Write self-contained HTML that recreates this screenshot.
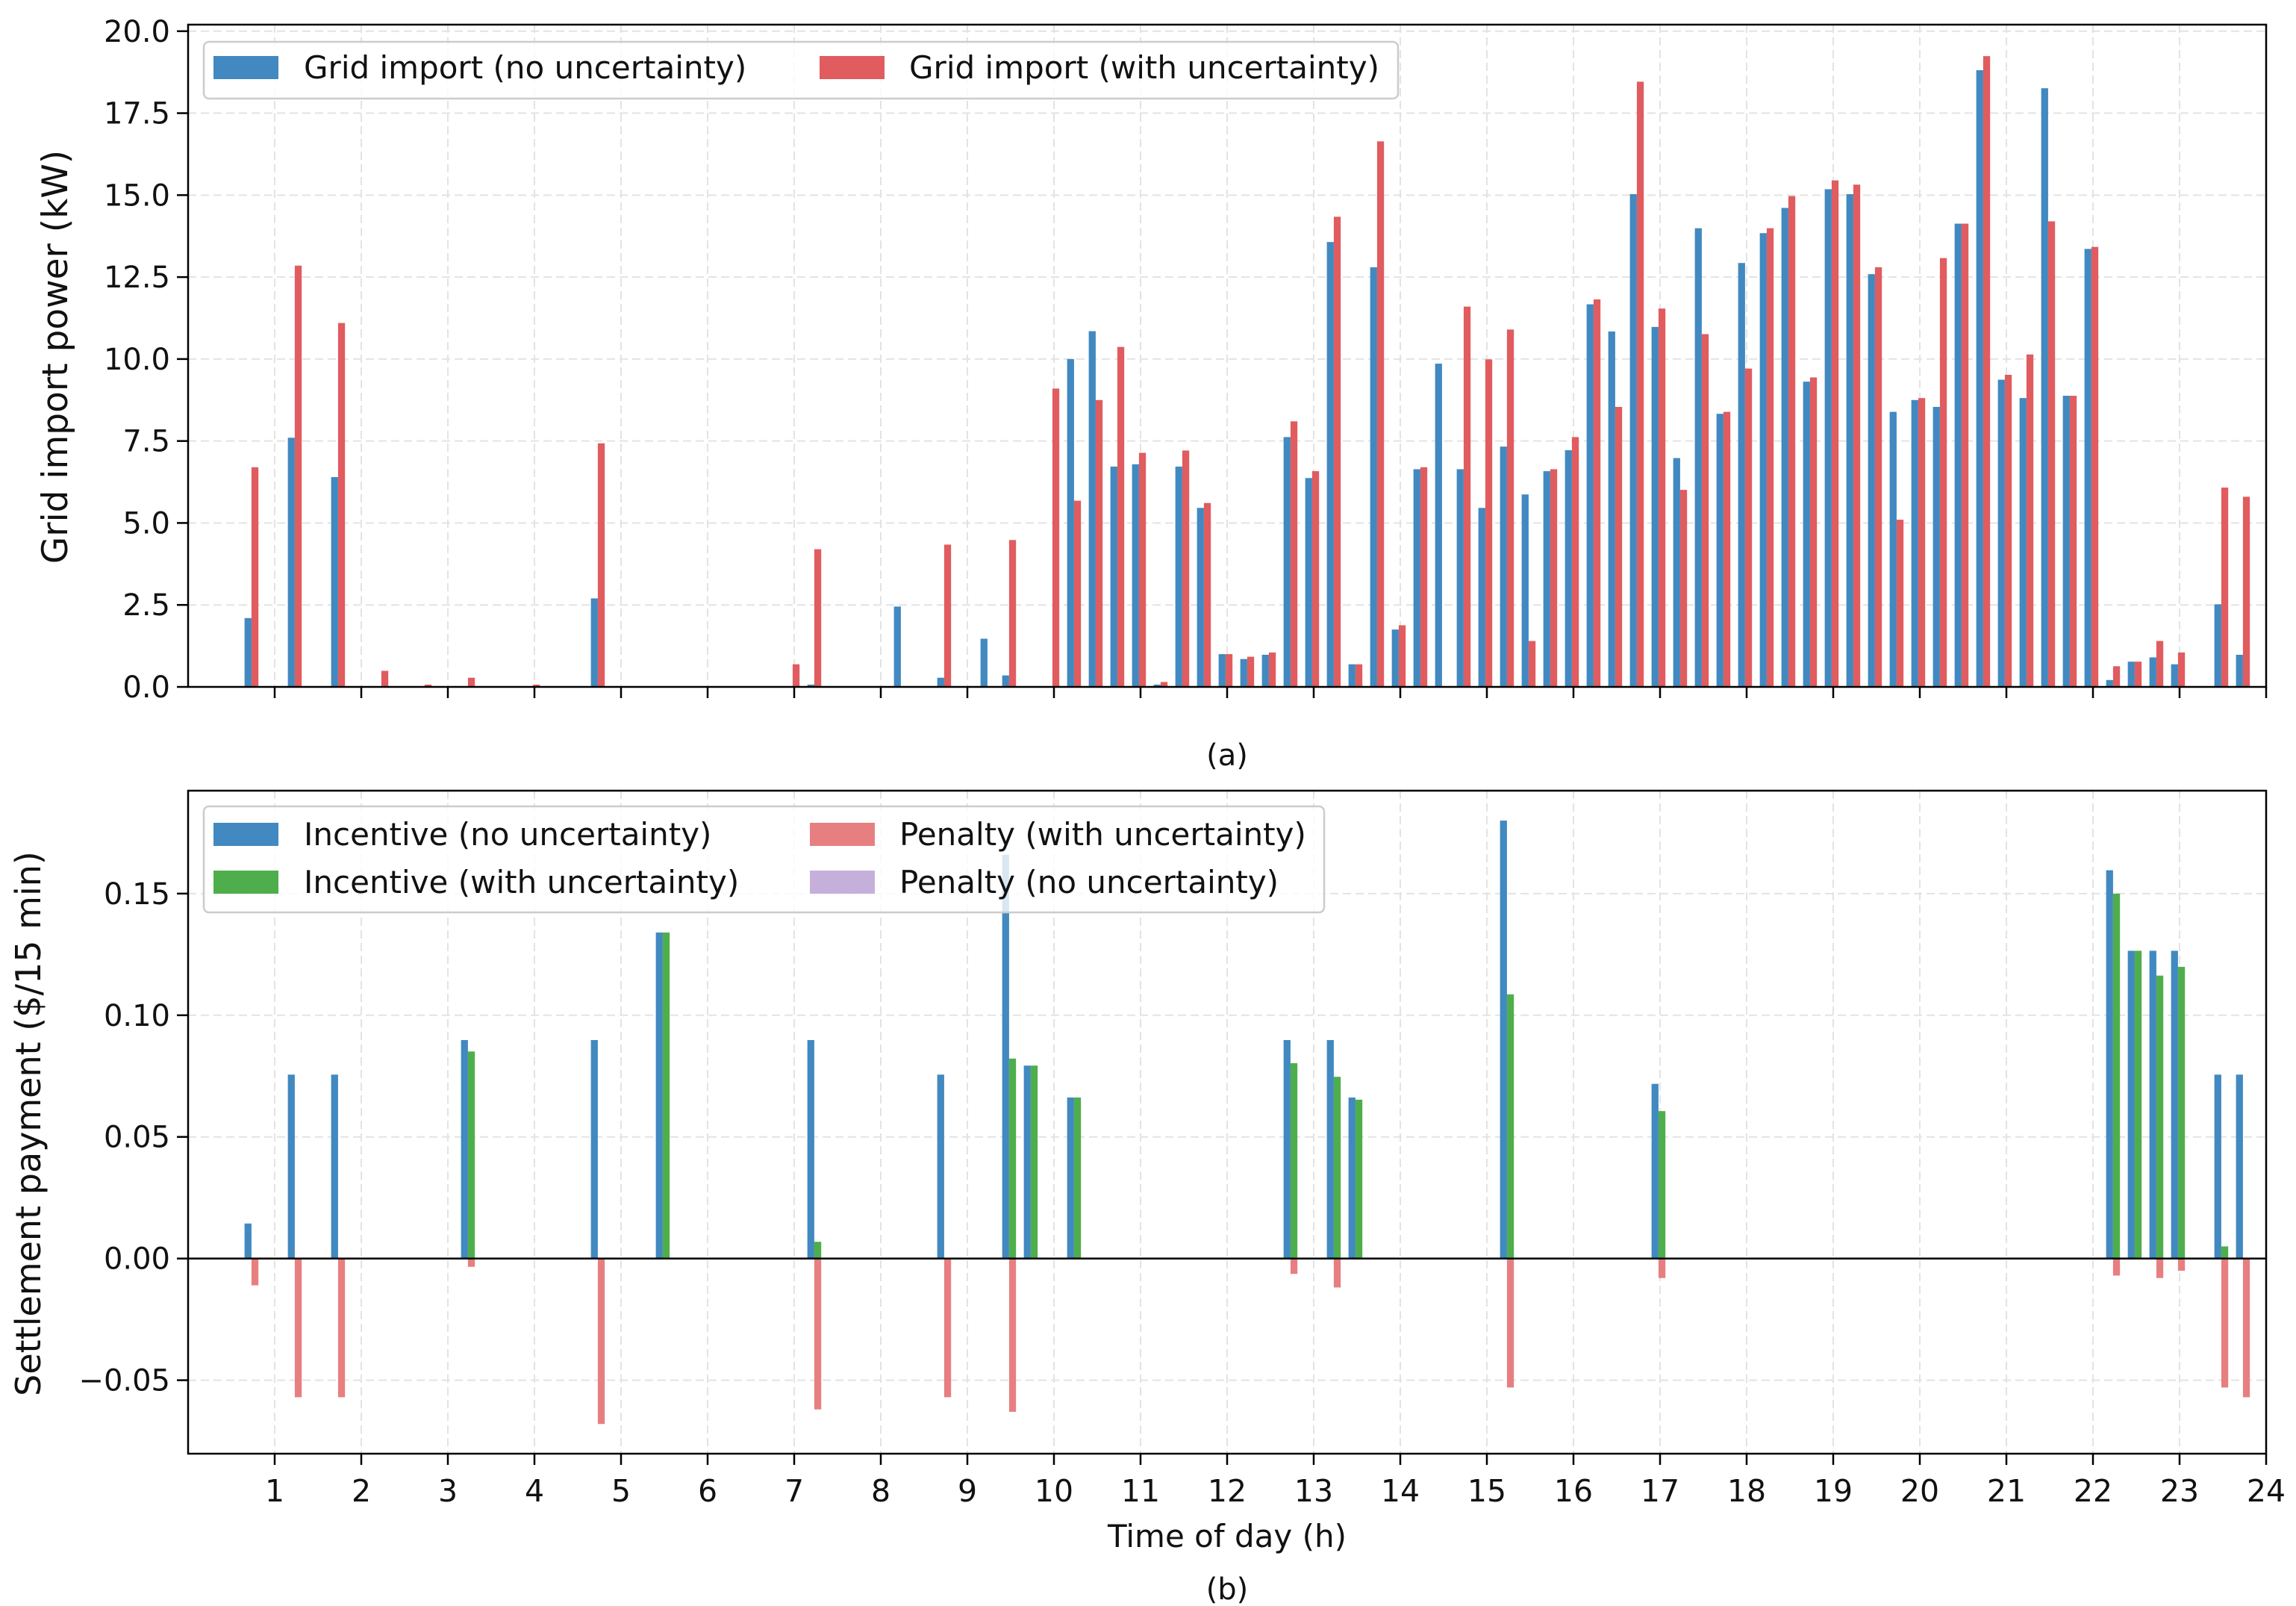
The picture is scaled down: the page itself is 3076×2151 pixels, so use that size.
<!DOCTYPE html>
<html><head><meta charset="utf-8"><title>Grid import and settlement payment</title>
<style>
html,body{margin:0;padding:0;background:#fff;}
svg{display:block;font-family:"DejaVu Sans","Liberation Sans",sans-serif;}
</style></head>
<body>
<svg id="chart" width="3076" height="2151" viewBox="0 0 3076 2151" xmlns="http://www.w3.org/2000/svg">
<rect width="3076" height="2151" fill="#ffffff"/>
<g id="top"></g>
<g id="bot"></g>
</svg>
<script>
// ---------- data: panel (a) ----------
const topTimes = [0.75,1.25,1.75,2.25,2.75,3.25,4.0,4.75,7.0,7.25,8.25,8.75,9.25,9.5,
 10.0,10.25,10.5,10.75,11.0,11.25,11.5,11.75,12.0,12.25,12.5,12.75,13.0,13.25,13.5,13.75,
 14.0,14.25,14.5,14.75,15.0,15.25,15.5,15.75,16.0,16.25,16.5,16.75,17.0,17.25,17.5,17.75,
 18.0,18.25,18.5,18.75,19.0,19.25,19.5,19.75,20.0,20.25,20.5,20.75,21.0,21.25,21.5,21.75,
 22.0,22.25,22.5,22.75,23.0,23.5,23.75];
const importNoUnc = [2.1,7.6,6.4,0,0,0,0,2.7,0,0.07,2.45,0.28,1.47,0.35,
 0,10.0,10.85,6.72,6.79,0.07,6.72,5.46,1.0,0.85,0.98,7.62,6.37,13.57,0.69,12.8,
 1.75,6.64,9.86,6.64,5.46,7.33,5.87,6.58,7.22,11.67,10.84,15.03,10.98,6.98,13.99,8.33,
 12.93,13.84,14.61,9.31,15.18,15.03,12.59,8.39,8.75,8.54,14.13,18.81,9.37,8.81,18.26,8.88,
 13.36,0.21,0.77,0.9,0.69,2.52,0.98];
const importWithUnc = [6.7,12.85,11.1,0.49,0.07,0.28,0.07,7.43,0.69,4.2,0,4.34,0,4.48,
 9.1,5.68,8.75,10.37,7.14,0.15,7.21,5.61,1.0,0.92,1.05,8.1,6.58,14.34,0.69,16.64,
 1.88,6.7,0,11.6,9.99,10.9,1.4,6.64,7.62,11.82,8.54,18.46,11.54,6.01,10.76,8.39,
 9.71,13.99,14.97,9.44,15.45,15.32,12.8,5.1,8.81,13.08,14.13,19.24,9.52,10.14,14.2,8.88,
 13.42,0.63,0.77,1.4,1.05,6.08,5.8];
const topYTicks = [0,2.5,5,7.5,10,12.5,15,17.5,20];
const topYLabels = ["0.0","2.5","5.0","7.5","10.0","12.5","15.0","17.5","20.0"];
// ---------- data: panel (b) ----------
const botTimes = [0.75,1.25,1.75,3.25,4.75,5.5,7.25,8.75,9.5,9.75,10.25,12.75,13.25,13.5,15.25,17.0,22.25,22.5,22.75,23.0,23.5,23.75];
const incentiveNoUnc = [0.0144,0.0756,0.0756,0.0898,0.0898,0.134,0.0898,0.0756,0.166,0.0793,0.0662,0.0898,0.0898,0.0662,0.180,0.0718,0.1596,0.1265,0.1265,0.1265,0.0756,0.0756];
const incentiveWithUnc = [0,0,0,0.0851,0,0.134,0.0069,0,0.0822,0.0793,0.0662,0.0803,0.0747,0.0653,0.1086,0.0606,0.150,0.1265,0.1163,0.1199,0.005,0];
const penaltyWithUnc = [-0.011,-0.057,-0.057,-0.0034,-0.068,0,-0.062,-0.057,-0.063,0,0,-0.0063,-0.0119,0,-0.053,-0.008,-0.007,0,-0.008,-0.005,-0.053,-0.057];
const penaltyNoUnc = [0,0,0,0,0,0,0,0,0,0,0,0,0,0,0,0,0,0,0,0,0,0];
const botYTicks = [-0.05,0,0.05,0.10,0.15];
const botYLabels = ["\u22120.05","0.00","0.05","0.10","0.15"];
const xTicks = [1,2,3,4,5,6,7,8,9,10,11,12,13,14,15,16,17,18,19,20,21,22,23,24];

// ---------- layout ----------
const NS = "http://www.w3.org/2000/svg";
const X0 = 252, X1 = 3036;
const xs = h => X0 + (h / 24) * (X1 - X0);
const T = {top: 33, bottom: 920, min: 0, max: 20.2};
const B = {top: 1059, bottom: 1947, min: -0.0802, max: 0.1923};
const ys = (ax, v) => ax.bottom - (v - ax.min) / (ax.max - ax.min) * (ax.bottom - ax.top);
const BW = 0.08, OFF = -0.018;
const C = {blue: "#4189c0", red: "#e05c5f", pen: "#e77f80", green: "#4fae4c", purple: "#c5b0dc"};

function mk(parent, tag, attrs, text) {
  const e = document.createElementNS(NS, tag);
  for (const k in attrs) e.setAttribute(k, attrs[k]);
  if (text !== undefined) e.textContent = text;
  parent.appendChild(e);
  return e;
}

function frame(g, ax, yTicks, yLabels, showXLabels) {
  xTicks.forEach(t => {
    if (t >= 24) return;
    const l = mk(g, "line", {x1: xs(t), x2: xs(t), y1: ax.top, y2: ax.bottom, stroke: "#e3e3e3", "stroke-width": 2, "stroke-dasharray": "11,6"});
    
    
  });
  yTicks.forEach(v => {
    const l = mk(g, "line", {x1: X0, x2: X1, y1: ys(ax, v), y2: ys(ax, v), stroke: "#e3e3e3", "stroke-width": 2, "stroke-dasharray": "11,6"});
    
    
  });
  yTicks.forEach((v, i) => {
    const y = ys(ax, v);
    const tk = mk(g, "line", {x1: X0 - 15, x2: X0, y1: y, y2: y, stroke: "#000", "stroke-width": 2.5});
    
    
    const tx = mk(g, "text", {x: X0 - 24, y: y + 14, "text-anchor": "end", "font-size": 40, fill: "#111"}, yLabels[i]);
    
    
  });
  xTicks.forEach(t => {
    const tk = mk(g, "line", {x1: xs(t), x2: xs(t), y1: ax.bottom, y2: ax.bottom + 15, stroke: "#000", "stroke-width": 2.5});
    
    
    if (showXLabels) {
      const tx = mk(g, "text", {x: xs(t), y: ax.bottom + 64, "text-anchor": "middle", "font-size": 41, fill: "#111"}, String(t));
      
      
    }
  });
}

function bar(g, h, v, side, ax, color, name) {
  if (!v) return;
  const c = h + OFF;
  const xa = side < 0 ? xs(c - BW) : xs(c);
  const xb = side < 0 ? xs(c) : xs(c + BW);
  const y0 = ys(ax, 0), y1 = ys(ax, v);
  const r = mk(g, "rect", {x: xa, y: Math.min(y0, y1), width: xb - xa, height: Math.abs(y1 - y0), fill: color});
  
  
}

function legend(g, x, y, w, h, entries) {
  const box = mk(g, "rect", {x: x, y: y, width: w, height: h, rx: 7, fill: "#fff", "fill-opacity": 0.8, stroke: "#cccccc", "stroke-width": 2.5});
  
  
  entries.forEach(e => {
    const p = mk(g, "rect", {x: e.px, y: e.py - 15, width: 87, height: 31, fill: e.color});
    
    
    const t = mk(g, "text", {x: e.tx, y: e.py + 15, "font-size": 42, fill: "#111"}, e.label);
    
    
  });
}

// ---------- panel (a) ----------
const gt = document.getElementById("top");
frame(gt, T, topYTicks, topYLabels, false);
topTimes.forEach((h, i) => {
  bar(gt, h, importNoUnc[i], -1, T, C.blue, 'bar-import-no-uncertainty');
  bar(gt, h, importWithUnc[i], 1, T, C.red, 'bar-import-with-uncertainty');
});
const spT = mk(gt, "rect", {x: X0, y: T.top, width: X1 - X0, height: T.bottom - T.top, fill: "none", stroke: "#000", "stroke-width": 2.5});


legend(gt, 273, 56, 1600, 76, [
  {px: 286, py: 90, tx: 407, color: C.blue, label: "Grid import (no uncertainty)"},
  {px: 1098, py: 90, tx: 1218, color: C.red, label: "Grid import (with uncertainty)"}
]);
const ylT = mk(gt, "text", {x: 0, y: 0, transform: "translate(90,478) rotate(-90)", "text-anchor": "middle", "font-size": 47, fill: "#111"}, "Grid import power (kW)");


const capA = mk(gt, "text", {x: 1644, y: 1025, "text-anchor": "middle", "font-size": 40, fill: "#111"}, "(a)");



// ---------- panel (b) ----------
const gb = document.getElementById("bot");
frame(gb, B, botYTicks, botYLabels, true);
botTimes.forEach((h, i) => {
  bar(gb, h, incentiveNoUnc[i], -1, B, C.blue, 'bar-incentive-no-uncertainty');
  bar(gb, h, incentiveWithUnc[i], 1, B, C.green, 'bar-incentive-with-uncertainty');
  bar(gb, h, penaltyWithUnc[i], 1, B, C.pen, 'bar-penalty-with-uncertainty');
  bar(gb, h, penaltyNoUnc[i], -1, B, C.purple, 'bar-penalty-no-uncertainty');
});
const zl = mk(gb, "line", {x1: X0, x2: X1, y1: ys(B, 0), y2: ys(B, 0), stroke: "#000", "stroke-width": 2.5});


const spB = mk(gb, "rect", {x: X0, y: B.top, width: X1 - X0, height: B.bottom - B.top, fill: "none", stroke: "#000", "stroke-width": 2.5});


legend(gb, 273, 1080, 1501, 142, [
  {px: 286, py: 1117, tx: 407, color: C.blue, label: "Incentive (no uncertainty)"},
  {px: 286, py: 1181, tx: 407, color: C.green, label: "Incentive (with uncertainty)"},
  {px: 1085, py: 1117, tx: 1205, color: C.pen, label: "Penalty (with uncertainty)"},
  {px: 1085, py: 1181, tx: 1205, color: C.purple, label: "Penalty (no uncertainty)"}
]);
const ylB = mk(gb, "text", {x: 0, y: 0, transform: "translate(54,1505) rotate(-90)", "text-anchor": "middle", "font-size": 46, fill: "#111"}, "Settlement payment ($/15 min)");


const xl = mk(gb, "text", {x: 1644, y: 2072, "text-anchor": "middle", "font-size": 42, fill: "#111"}, "Time of day (h)");


const capB = mk(gb, "text", {x: 1644, y: 2142, "text-anchor": "middle", "font-size": 40, fill: "#111"}, "(b)");


</script>
</body></html>
